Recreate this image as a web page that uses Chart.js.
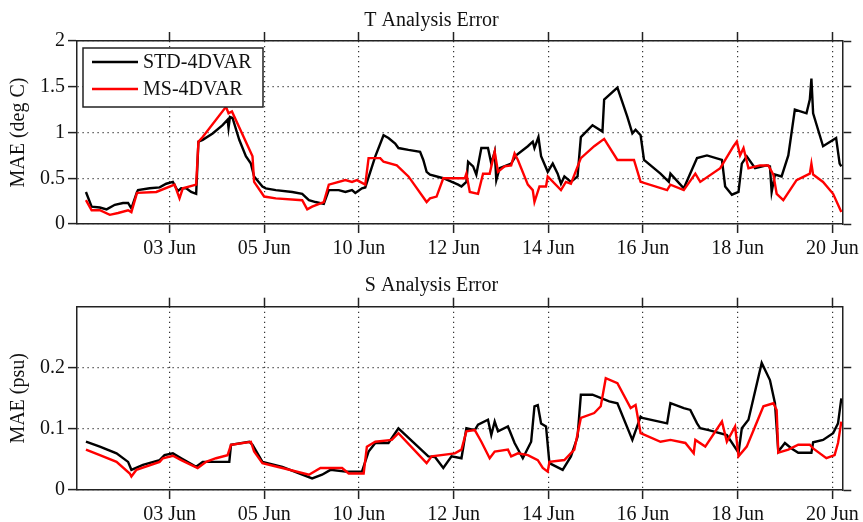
<!DOCTYPE html>
<html><head><meta charset="utf-8">
<script src="https://cdn.jsdelivr.net/npm/chart.js@4/dist/chart.umd.min.js"></script>
<style>
html,body{margin:0;padding:0;background:#fff;width:863px;height:522px;overflow:hidden}
canvas{position:absolute;left:0}
#c1{top:0}
#c2{top:261px}
</style></head><body>
<canvas id="c1" width="863" height="261"></canvas>
<canvas id="c2" width="863" height="261"></canvas>
<script>
// ---- data ----
const tickPositions = [1,2,3,4,5,6,7,8];
const tickLabels = ['03 Jun','05 Jun','10 Jun','12 Jun','14 Jun','16 Jun','18 Jun','20 Jun'];
const seriesNames = ['STD-4DVAR','MS-4DVAR'];
const tYTicks = [0,0.5,1,1.5,2];
const sYTicks = [0,0.1,0.2];

const tStdX = [0.117,0.177,0.264,0.335,0.422,0.509,0.562,0.597,0.656,0.667,
 0.790,0.895,0.965,1.035,1.087,1.123,1.176,1.228,1.281,1.305,
 1.350,1.455,1.560,1.613,1.623,1.638,1.665,1.736,1.806,1.859,
 1.893,1.981,2.016,2.122,2.296,2.401,2.472,2.542,2.629,2.682,
 2.787,2.857,2.927,2.962,3.032,3.067,3.173,3.260,3.312,3.383,
 3.417,3.523,3.646,3.680,3.715,3.751,3.891,4.048,4.083,4.135,
 4.153,4.206,4.240,4.293,4.363,4.398,4.434,4.451,4.486,4.608,
 4.661,4.784,4.836,4.854,4.896,4.924,4.994,5.047,5.099,5.134,
 5.170,5.239,5.309,5.344,5.467,5.572,5.590,5.730,5.835,5.888,
 5.922,5.975,6.011,6.185,6.273,6.290,6.431,6.571,6.676,6.834,
 6.868,6.939,7.009,7.044,7.096,7.184,7.306,7.341,7.359,7.394,
 7.464,7.535,7.604,7.727,7.762,7.779,7.797,7.902,8.040,8.077,
 8.095];
const tStdY = [0.35,0.19,0.18,0.16,0.21,0.23,0.23,0.17,0.35,0.37,
 0.39,0.40,0.44,0.46,0.36,0.39,0.39,0.35,0.33,0.90,
 0.92,0.99,1.08,1.14,1.05,1.17,1.16,0.92,0.74,0.66,
 0.52,0.41,0.39,0.37,0.35,0.33,0.26,0.24,0.22,0.37,
 0.37,0.35,0.37,0.34,0.39,0.40,0.74,0.97,0.94,0.88,
 0.83,0.81,0.79,0.70,0.57,0.54,0.50,0.43,0.41,0.46,
 0.68,0.63,0.54,0.83,0.83,0.66,0.79,0.48,0.61,0.66,
 0.75,0.85,0.90,0.83,0.95,0.74,0.57,0.66,0.55,0.44,
 0.52,0.46,0.52,0.95,1.08,1.01,1.36,1.49,1.17,0.99,
 1.03,0.97,0.70,0.55,0.46,0.55,0.39,0.72,0.75,0.70,
 0.41,0.32,0.35,0.66,0.74,0.61,0.64,0.63,0.35,0.54,
 0.52,0.75,1.25,1.21,1.36,1.59,1.21,0.85,0.94,0.66,
 0.63];

const tMsX = [0.117,0.177,0.264,0.369,0.457,0.562,0.597,0.656,0.860,1.053,
 1.105,1.140,1.281,1.305,1.350,1.596,1.623,1.659,1.876,1.893,
 1.999,2.122,2.401,2.454,2.506,2.629,2.682,2.857,2.927,2.979,
 3.067,3.102,3.225,3.260,3.400,3.523,3.715,3.751,3.820,3.891,
 4.048,4.119,4.135,4.171,4.258,4.311,4.381,4.434,4.469,4.539,
 4.608,4.644,4.679,4.784,4.836,4.854,4.907,4.976,4.994,5.134,
 5.186,5.239,5.344,5.485,5.590,5.730,5.905,5.975,6.255,6.290,
 6.431,6.553,6.605,6.816,6.956,6.991,7.026,7.062,7.114,7.236,
 7.324,7.377,7.412,7.482,7.622,7.762,7.779,7.797,7.902,8.008,
 8.095];
const tMsY = [0.26,0.15,0.15,0.10,0.12,0.15,0.13,0.34,0.35,0.43,
 0.28,0.39,0.43,0.90,0.95,1.28,1.21,1.23,0.74,0.46,
 0.30,0.28,0.26,0.16,0.19,0.24,0.43,0.48,0.46,0.48,
 0.43,0.72,0.72,0.68,0.64,0.52,0.24,0.28,0.30,0.50,
 0.50,0.50,0.55,0.35,0.33,0.55,0.55,0.79,0.57,0.63,
 0.64,0.77,0.70,0.43,0.37,0.24,0.41,0.41,0.52,0.37,
 0.46,0.44,0.72,0.85,0.93,0.70,0.70,0.46,0.37,0.43,
 0.37,0.55,0.46,0.61,0.85,0.90,0.75,0.83,0.61,0.64,
 0.64,0.54,0.33,0.26,0.48,0.55,0.66,0.54,0.46,0.33,
 0.13];

const sStdX = [0.117,0.264,0.440,0.562,0.597,0.719,0.895,0.947,1.035,1.123,
 1.281,1.350,1.631,1.649,1.841,1.876,1.981,2.191,2.506,2.611,
 2.700,2.857,3.032,3.102,3.173,3.312,3.417,3.733,3.803,3.891,
 3.978,4.083,4.135,4.224,4.258,4.363,4.398,4.434,4.469,4.574,
 4.644,4.731,4.819,4.854,4.889,4.924,4.976,5.012,5.152,5.239,
 5.309,5.344,5.467,5.643,5.730,5.888,5.975,5.993,6.255,6.290,
 6.431,6.500,6.571,6.605,6.694,6.886,7.009,7.044,7.114,7.254,
 7.341,7.394,7.429,7.499,7.569,7.640,7.779,7.797,7.902,8.008,
 8.060,8.095];
const sStdY = [0.079,0.071,0.060,0.046,0.033,0.041,0.049,0.057,0.060,0.052,
 0.038,0.046,0.046,0.074,0.079,0.074,0.046,0.038,0.019,0.025,
 0.033,0.030,0.030,0.063,0.077,0.077,0.101,0.055,0.054,0.036,
 0.055,0.052,0.101,0.098,0.107,0.115,0.090,0.112,0.096,0.104,
 0.077,0.052,0.079,0.137,0.139,0.109,0.104,0.044,0.033,0.055,
 0.087,0.156,0.156,0.145,0.142,0.082,0.120,0.118,0.109,0.142,
 0.134,0.131,0.109,0.101,0.098,0.090,0.061,0.101,0.115,0.208,
 0.180,0.142,0.063,0.077,0.068,0.061,0.061,0.078,0.082,0.093,
 0.109,0.150];

const sMsX = [0.117,0.264,0.440,0.580,0.597,0.650,0.895,0.930,1.035,1.123,
 1.297,1.386,1.491,1.613,1.649,1.859,1.893,1.981,2.191,2.472,
 2.594,2.822,2.892,3.050,3.084,3.173,3.347,3.417,3.715,3.768,
 4.013,4.083,4.135,4.224,4.293,4.381,4.434,4.574,4.608,4.679,
 4.784,4.889,4.942,4.994,5.012,5.170,5.275,5.344,5.485,5.554,
 5.607,5.730,5.870,5.922,5.975,6.185,6.290,6.448,6.536,6.553,
 6.658,6.834,6.886,6.973,7.009,7.096,7.184,7.272,7.377,7.412,
 7.429,7.535,7.640,7.762,7.797,7.937,8.024,8.060,8.095];
const sMsY = [0.066,0.057,0.046,0.027,0.022,0.033,0.046,0.052,0.056,0.049,
 0.036,0.046,0.052,0.057,0.074,0.079,0.063,0.044,0.036,0.025,
 0.036,0.036,0.027,0.027,0.071,0.079,0.082,0.093,0.044,0.055,
 0.060,0.066,0.096,0.098,0.079,0.052,0.063,0.066,0.055,0.060,
 0.057,0.049,0.036,0.030,0.046,0.049,0.066,0.118,0.126,0.137,
 0.183,0.175,0.134,0.139,0.093,0.079,0.082,0.077,0.060,0.082,
 0.071,0.112,0.079,0.104,0.055,0.071,0.104,0.137,0.142,0.131,
 0.061,0.066,0.074,0.074,0.068,0.052,0.057,0.077,0.112];

// ---- rendering ----
const FONT = '"Liberation Serif","Times New Roman","DejaVu Serif",serif';
Chart.defaults.font.family = FONT;
Chart.defaults.font.size = 20;
Chart.defaults.color = '#111';

const pts = (xs, ys) => xs.map((x, i) => ({x, y: ys[i]}));

const boxLegend = {
  id: 'boxLegend',
  afterDatasetsDraw(chart, args, o) {
    if (!o.show) return;
    const ctx = chart.ctx, a = chart.chartArea;
    const x = a.left + o.dx, y = a.top + o.dy;
    ctx.save();
    ctx.fillStyle = '#fff';
    ctx.fillRect(x, y, o.w, o.h);
    ctx.strokeStyle = '#222'; ctx.lineWidth = 1.5;
    ctx.strokeRect(x, y, o.w, o.h);
    ctx.font = '20px ' + FONT;
    ctx.textBaseline = 'middle';
    chart.data.datasets.forEach((ds, i) => {
      const ly = y + o.rows[i];
      ctx.strokeStyle = ds.borderColor; ctx.lineWidth = 2.6;
      ctx.beginPath(); ctx.moveTo(x + o.l0, ly); ctx.lineTo(x + o.l1, ly); ctx.stroke();
      ctx.fillStyle = '#111';
      ctx.fillText(ds.label, x + o.tx, ly + 1);
    });
    ctx.restore();
  }
};

function makeChart(id, title, yTitle, std, ms, yMax, yTicks, p) {
  const setTicks = list => s => { s.ticks = list.map(v => ({value: v})); };
  const gridMain = {color: '#333', lineWidth: 1.2, drawTicks: true, tickLength: 9,
                    tickColor: '#222', tickWidth: 1.5, tickBorderDash: []};
  const gridSide = {drawOnChartArea: false, drawTicks: true, tickLength: 9,
                    tickColor: '#222', tickWidth: 1.5, tickBorderDash: []};
  const border = {display: true, color: '#222', width: 1.5, dash: [1.2, 3.8]};
  const xMin = 0.0225, xMax = 8.105;
  return new Chart(document.getElementById(id), {
    type: 'line',
    data: {datasets: [
      {label: seriesNames[0], data: std, borderColor: '#000', borderWidth: 2.4, pointRadius: 0, tension: 0, order: 1},
      {label: seriesNames[1], data: ms, borderColor: '#ff0000', borderWidth: 2.4, pointRadius: 0, tension: 0, order: 0}
    ]},
    options: {
      responsive: false, animation: false, devicePixelRatio: 1,
      layout: {padding: 0},
      scales: {
        x: {type: 'linear', position: 'bottom', min: xMin, max: xMax,
            afterBuildTicks: setTicks(tickPositions),
            afterFit: s => { s.height = p.xH; },
            ticks: {autoSkip: false, maxRotation: 0, padding: 4,
                    callback: v => { const k = tickPositions.indexOf(v); return k >= 0 ? tickLabels[k] : ''; }},
            grid: gridMain, border},
        x2: {type: 'linear', position: 'top', min: xMin, max: xMax,
            afterBuildTicks: setTicks(tickPositions),
            afterFit: s => { s.height = p.x2H; },
            ticks: {display: false}, grid: gridSide, border: {display: true, color: '#222', width: 1.5}},
        y: {type: 'linear', position: 'left', min: 0, max: yMax,
            afterBuildTicks: setTicks(yTicks),
            afterFit: s => { s.width = 77; },
            ticks: {padding: 3, callback: v => String(+(+v).toFixed(3))},
            title: {display: true, text: yTitle, font: {size: 20}, padding: {top: 7, bottom: 0}},
            grid: gridMain, border},
        y2: {type: 'linear', position: 'right', min: 0, max: yMax,
            afterBuildTicks: setTicks(yTicks),
            afterFit: s => { s.width = 17; },
            ticks: {display: false}, grid: gridSide, border: {display: true, color: '#222', width: 1.5}}
      },
      plugins: {
        legend: {display: false},
        tooltip: {enabled: false},
        title: {display: true, text: title, font: {size: 20, weight: 'normal'}, color: '#111',
                padding: {top: p.titleTop, bottom: 0}},
        boxLegend: p.legend
      }
    },
    plugins: [boxLegend]
  });
}

makeChart('c1', 'T Analysis Error', 'MAE (deg C)', pts(tStdX, tStdY), pts(tMsX, tMsY), 2, tYTicks,
  {titleTop: 8.5, x2H: 8.5, xH: 37,
   legend: {show: true, dx: 6, dy: 7, w: 180, h: 59, rows: [14, 41], l0: 9, l1: 55, tx: 60}});
makeChart('c2', 'S Analysis Error', 'MAE (psu)', pts(sStdX, sStdY), pts(sMsX, sMsY), 0.3, sYTicks,
  {titleTop: 12.3, x2H: 9.4, xH: 32, legend: {show: false}});
</script>
</body></html>
